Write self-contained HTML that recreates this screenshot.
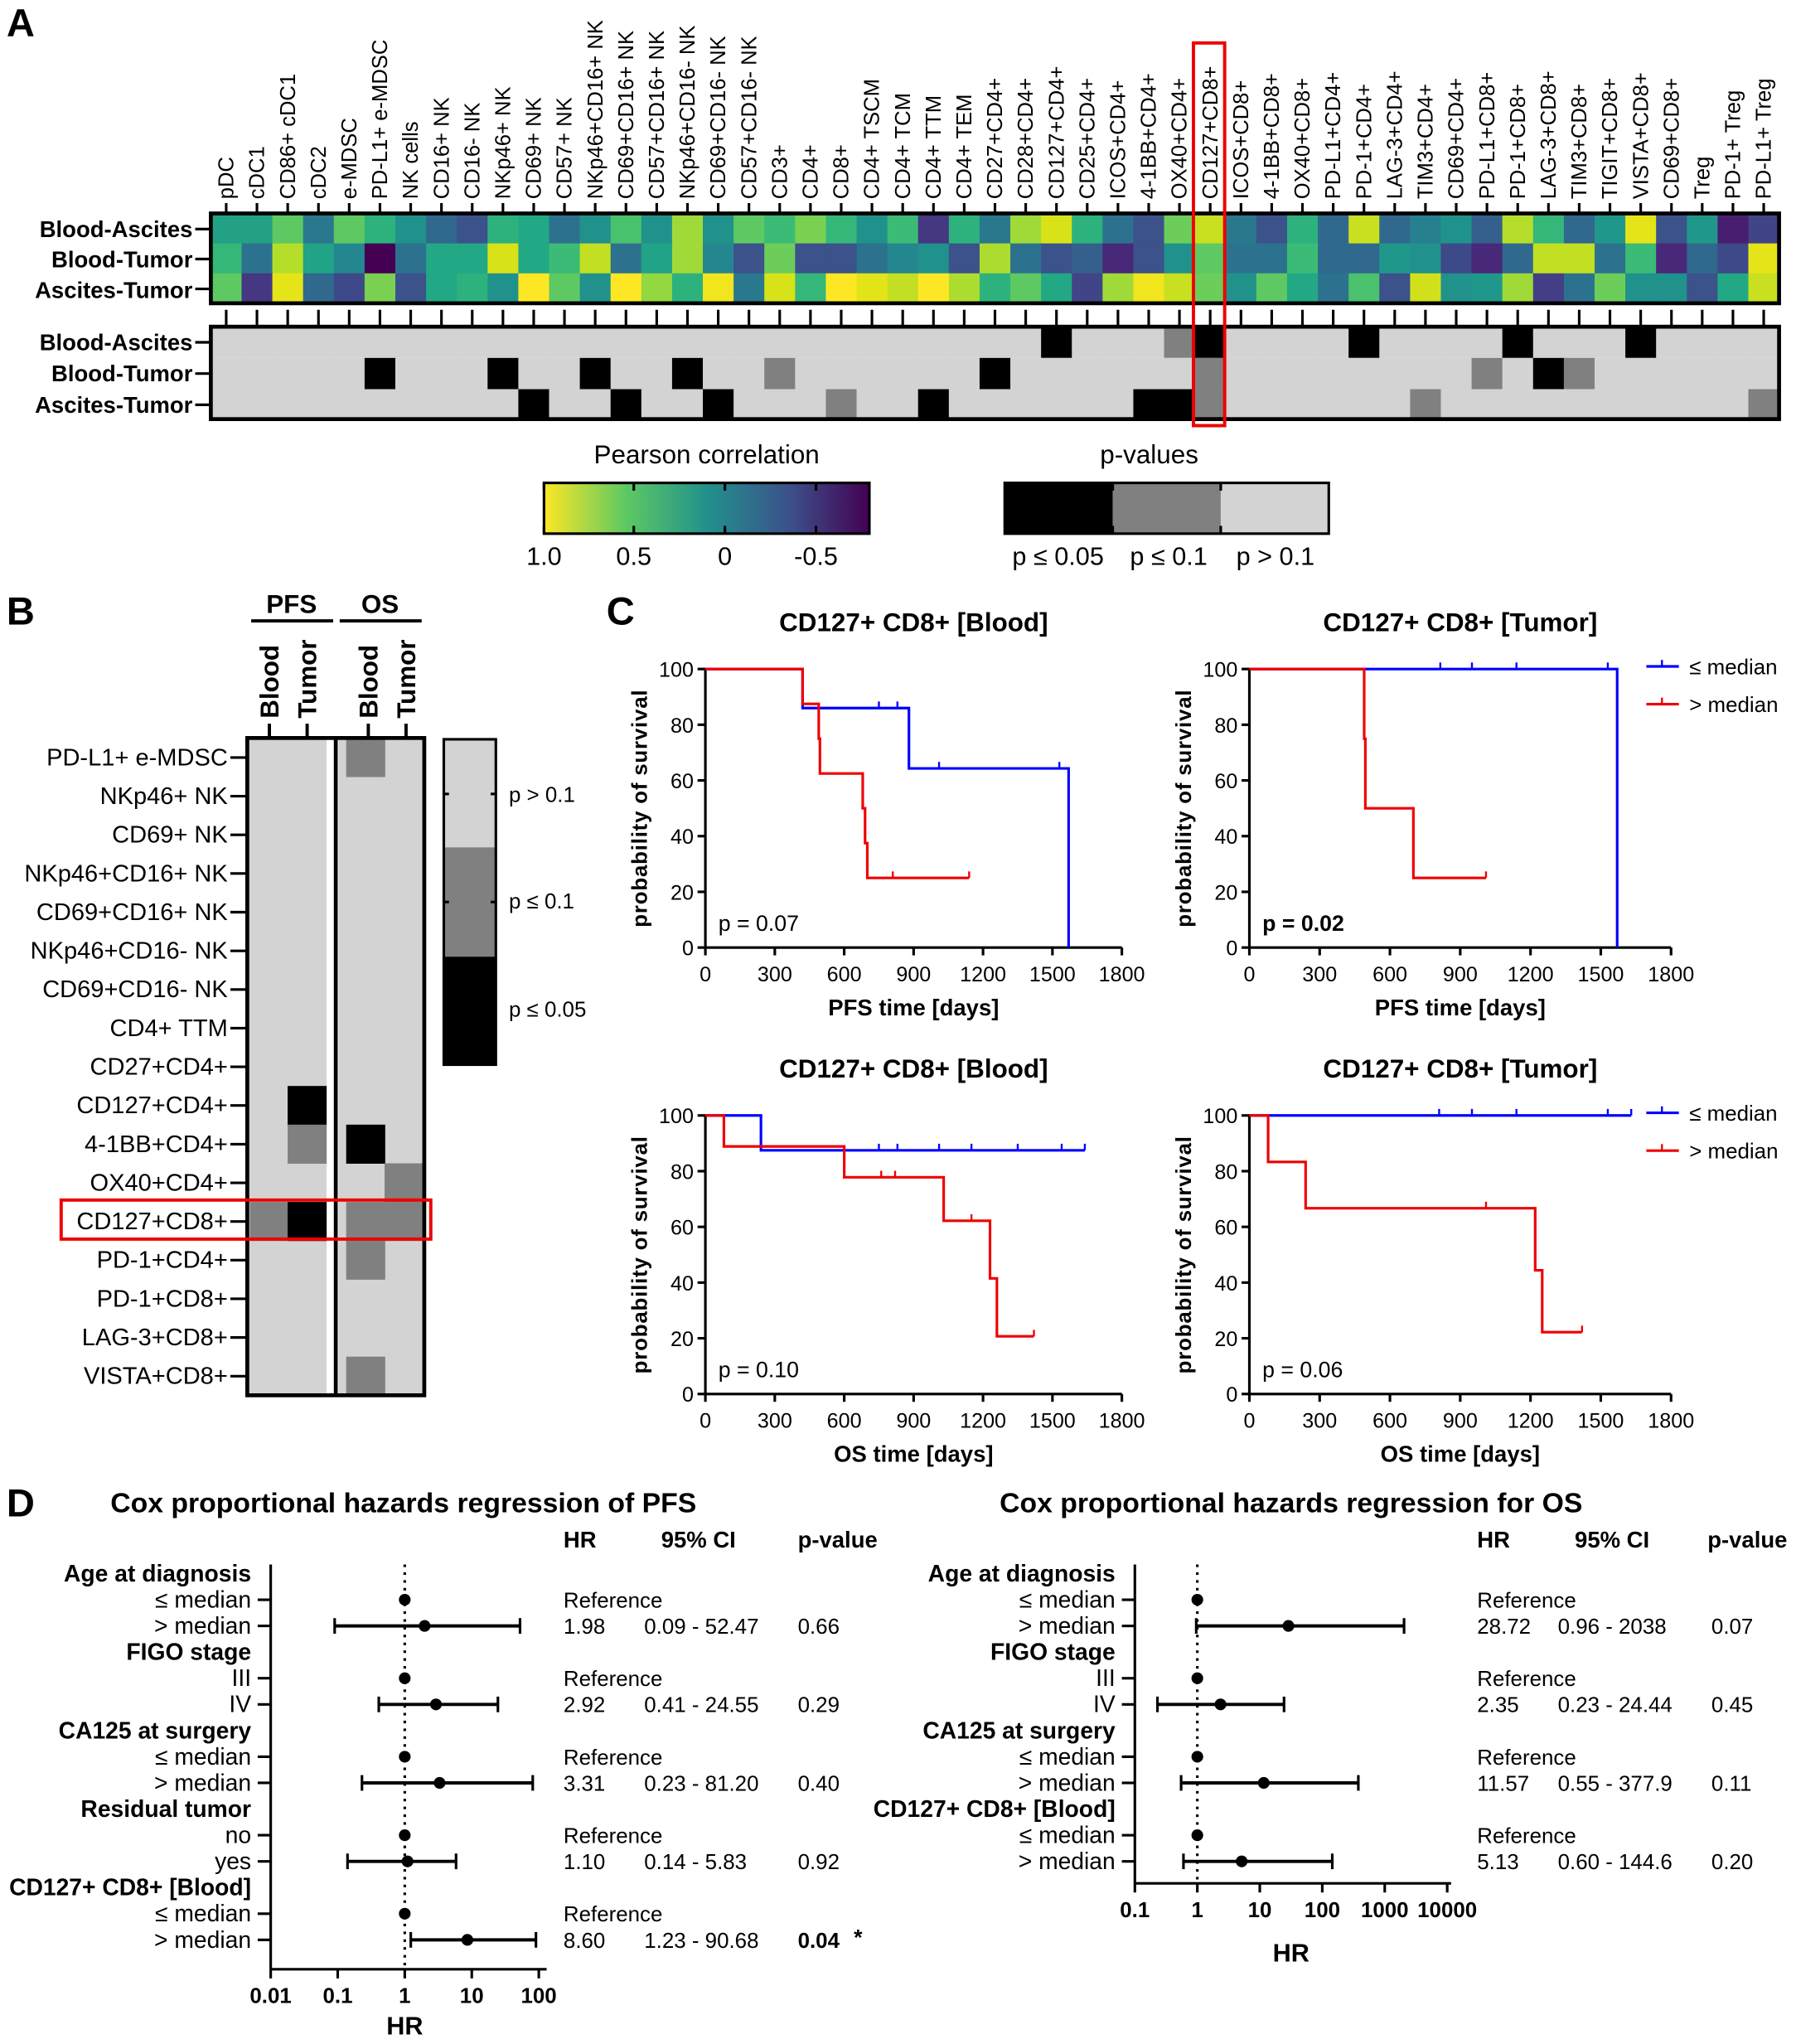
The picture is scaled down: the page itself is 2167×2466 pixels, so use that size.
<!DOCTYPE html>
<html><head><meta charset="utf-8"><style>html,body{margin:0;padding:0;background:#fff}svg{display:block}text{font-family:"Liberation Sans",sans-serif}.n{font-family:"Liberation Sans Narrow","Liberation Sans",sans-serif}</style></head>
<body>
<svg id="s" xmlns="http://www.w3.org/2000/svg" width="2167" height="2466" viewBox="0 0 1380 1570.4">
<defs><linearGradient id="vir" x1="0" x2="1" y1="0" y2="0">
<stop offset="0" stop-color="#fde725"/><stop offset="0.25" stop-color="#5ec962"/><stop offset="0.5" stop-color="#21918c"/><stop offset="0.75" stop-color="#3b528b"/><stop offset="1" stop-color="#440154"/></linearGradient></defs>
</svg>
<script>
var S=document.getElementById('s'),o='';
function T(x,y,t,sz,a,w,ex){o+='<text x="'+x+'" y="'+y+'" font-size="'+sz+'" text-anchor="'+(a||'start')+'"'+(w?' font-weight="bold"':'')+(ex||'')+'>'+t+'</text>';}
function L(x1,y1,x2,y2,c,w,ex){o+='<line x1="'+x1+'" y1="'+y1+'" x2="'+x2+'" y2="'+y2+'" stroke="'+(c||'#000')+'" stroke-width="'+(w||2)+'"'+(ex||'')+'/>';}
function R(x,y,w,h,f,ex){o+='<rect x="'+x+'" y="'+y+'" width="'+w+'" height="'+h+'" fill="'+f+'"'+(ex||'')+'/>';}
// Panel A
T(5,28,'A',30,'start',1);
var cols=["pDC","cDC1","CD86+ cDC1","cDC2","e-MDSC","PD-L1+ e-MDSC","NK cells","CD16+ NK","CD16- NK","NKp46+ NK","CD69+ NK","CD57+ NK","NKp46+CD16+ NK","CD69+CD16+ NK","CD57+CD16+ NK","NKp46+CD16- NK","CD69+CD16- NK","CD57+CD16- NK","CD3+","CD4+","CD8+","CD4+ TSCM","CD4+ TCM","CD4+ TTM","CD4+ TEM","CD27+CD4+","CD28+CD4+","CD127+CD4+","CD25+CD4+","ICOS+CD4+","4-1BB+CD4+","OX40+CD4+","CD127+CD8+","ICOS+CD8+","4-1BB+CD8+","OX40+CD8+","PD-L1+CD4+","PD-1+CD4+","LAG-3+CD4+","TIM3+CD4+","CD69+CD4+","PD-L1+CD8+","PD-1+CD8+","LAG-3+CD8+","TIM3+CD8+","TIGIT+CD8+","VISTA+CD8+","CD69+CD8+","Treg","PD-1+ Treg","PD-L1+ Treg"];
var hm=[
"#22a184 #22a184 #5ec962 #2a788e #5ec962 #2db27d #21918c #31688e #3b528b #2db27d #22a884 #2c728e #21918c #4ac16d #21918c #a0da39 #21918c #5ec962 #3bbb75 #7ad151 #35b779 #21918c #3bbb75 #453781 #2db27d #2a788e #a0da39 #d8e219 #2db27d #2c728e #3b528b #6ccd5a #c8e020 #2a788e #3b528b #2db27d #31688e #c8e020 #31688e #27808e #20928c #355f8d #b5de2b #35b779 #31688e #1f988b #e5e419 #3b528b #1f988b #481f70 #414487",
"#35b779 #2c728e #b5de2b #20a386 #24868e #440154 #2c728e #22a884 #22a884 #d8e219 #22a884 #3bbb75 #c2df23 #2c728e #20a386 #a0da39 #24868e #3b528b #6ccd5a #3b528b #3b528b #2c728e #24868e #21918c #3b528b #addc30 #2c728e #3b528b #355f8d #482878 #3b528b #21918c #5ec962 #2c728e #2c728e #3bbb75 #31688e #31688e #1f988b #21918c #3e4989 #482878 #31688e #c2df23 #c2df23 #2c728e #3bbb75 #482878 #31688e #3e4989 #e5e419",
"#5ec962 #453781 #e5e419 #31688e #3e4989 #7ad151 #3b528b #22a884 #2db27d #21918c #fde725 #5ec962 #21918c #fde725 #93d741 #2db27d #f1e51d #2a788e #d8e219 #35b779 #fde725 #e2e418 #c2df23 #fde725 #addc30 #2db27d #5ec962 #22a884 #414487 #a0da39 #f1e51d #c8e020 #6ccd5a #21918c #5ec962 #22a884 #2c728e #4ac16d #3b528b #d0e11c #21918c #1f988b #a0da39 #433e85 #2c728e #6ccd5a #21918c #21918c #3b528b #22a884 #c8e020"];
var X0=162,CW=(1367-162)/51;
for(var r=0;r<3;r++){var c=hm[r].split(' ');for(var i=0;i<51;i++)R((X0+i*CW).toFixed(2),164+r*23,(CW+0.6).toFixed(2),23.6,c[i]);}
R(X0,164,1205,69,'none',' stroke="#000" stroke-width="3"');
var pg=[{},{6:2,10:2,13:2,16:2,19:1,26:2,33:1,42:1,44:2,45:1},{11:2,14:2,17:2,21:1,24:2,31:2,32:2,33:1,40:1,51:1}];
pg[0]={28:2,32:1,33:2,38:2,43:2,47:2};
var pc=['#d3d3d3','#808080','#000'];
for(r=0;r<3;r++)for(i=0;i<51;i++)R((X0+i*CW).toFixed(2),251+r*24,(CW+0.6).toFixed(2),24,pc[pg[r][i+1]||0]);
R(X0,251,1205,71,'none',' stroke="#000" stroke-width="3"');
for(i=0;i<51;i++){var cx=(X0+(i+0.5)*CW).toFixed(2);L(cx,156,cx,164,'#000',2);L(cx,238,cx,250,'#000',2);
o+='<text transform="translate('+(+cx+5.5)+',153) rotate(-90)" font-size="16.3">'+cols[i]+'</text>';}
var rl=["Blood-Ascites","Blood-Tumor","Ascites-Tumor"];
for(r=0;r<3;r++){T(148,182+r*23.5,rl[r],17.5,'end',1);L(150,176+r*23,162,176+r*23);T(148,269+r*24,rl[r],17.5,'end',1);L(150,263+r*24,162,263+r*24);}
R(917,33,24,294,'none',' stroke="#e00" stroke-width="2.5"');
// colorbars
T(543,356,'Pearson  correlation',20,'middle');T(883,356,'p-values',20,'middle');
R(418,371,250,39,'url(#vir)',' stroke="#000" stroke-width="2"');
[[418,'1.0'],[487,'0.5'],[557,'0'],[627,'-0.5']].forEach(function(a){L(a[0],371,a[0],377);L(a[0],404,a[0],410);T(a[0],434,a[1],19.5,'middle');});
R(772,371,83,39,'#000');R(855,371,83,39,'#808080');R(938,371,83,39,'#d3d3d3');R(772,371,249,39,'none',' stroke="#000" stroke-width="2"');
L(855,371,855,377,'#000');L(938,371,938,377,'#000');L(855,404,855,410);L(938,404,938,410);
T(813,434,'p ≤ 0.05',19.5,'middle');T(898,434,'p ≤ 0.1',19.5,'middle');T(980,434,'p > 0.1',19.5,'middle');
// Panel B
T(5,480,'B',30,'start',1);
T(224,471,'PFS',20,'middle',1);T(292,471,'OS',20,'middle',1);L(193,477,256,477,'#000',2.5);L(261,477,324,477,'#000',2.5);
[[207,'Blood'],[236,'Tumor'],[283,'Blood'],[312,'Tumor']].forEach(function(a){o+='<text transform="translate('+(a[0]+7)+',552) rotate(-90)" font-size="20" font-weight="bold">'+a[1]+'</text>';L(a[0],556,a[0],567,'#000',2.5);});
var bl=["PD-L1+ e-MDSC","NKp46+ NK","CD69+ NK","NKp46+CD16+ NK","CD69+CD16+ NK","NKp46+CD16- NK","CD69+CD16- NK","CD4+ TTM","CD27+CD4+","CD127+CD4+","4-1BB+CD4+","OX40+CD4+","CD127+CD8+","PD-1+CD4+","PD-1+CD8+","LAG-3+CD8+","VISTA+CD8+"];
var RH=(1072-567)/17;
R(190,567,61,505,'#d3d3d3');R(260,567,66,505,'#d3d3d3');R(251,567,9,505,'#fff');L(258,567,258,1072,'#000',3);
var bc=[[0,2,1],[9,1,2],[10,1,1],[10,2,2],[11,3,1],[12,0,1],[12,1,2],[12,2,1],[12,3,1],[13,2,1],[16,2,1]];
var bx=[[192,29],[221,30],[266,30],[295.5,30]];
bc.forEach(function(a){R(bx[a[1]][0],567+a[0]*RH,bx[a[1]][1],RH+0.3,pc[a[2]]);});
R(190,567,136,505,'none',' stroke="#000" stroke-width="3"');
for(i=0;i<17;i++){var yy=582+i*RH;T(175,yy+6,bl[i],18.5,'end');L(177,yy,190,yy,'#000',2);}
R(47,922,284,30,'none',' stroke="#e00" stroke-width="2.5"');
R(341,568,40,83,'#d3d3d3');R(341,651,40,84,'#808080');R(341,735,40,83,'#000');R(341,568,40,250,'none',' stroke="#000" stroke-width="2"');
[610,693].forEach(function(y){L(341,y,345,y);L(377,y,381,y);});
T(391,616,'p &gt; 0.1',16.5,'start');T(391,698,'p ≤ 0.1',16.5,'start');T(391,781,'p ≤ 0.05',16.5,'start');
// Panel C
T(466,480,'C',30,'start',1);
function KM(x0,x1,yt,yb,title,xl,p,pb,curves,leg){
 var W=x1-x0,H=yb-yt;function X(d){return x0+d/1800*W;}function Y(v){return yb-v/100*H;}
 T((x0+x1)/2,yt-29,title,20,'middle',1,' class="n"');
 L(x0,yt,x0,yb,'#000',2);L(x0,yb,x1,yb,'#000',2);
 for(var v=0;v<=100;v+=20){L(x0-6,Y(v),x0,Y(v));T(x0-9,Y(v)+6,v,16,'end',0,' class="n"');}
 for(var d=0;d<=1800;d+=300){L(X(d),yb,X(d),yb+6);T(X(d),yb+26,d,16,'middle',0,' class="n"');}
 T((x0+x1)/2,yb+52,xl,17.5,'middle',1,' class="n"');
 o+='<text transform="translate('+(x0-45)+','+(yt+H/2)+') rotate(-90)" font-size="16.5" font-weight="bold" text-anchor="middle" letter-spacing="0.5">probability of survival</text>';
 T(x0+10,yb-13,p,17,'start',pb,' class="n"');
 curves.forEach(function(c){var s=c.s,pts='M'+X(0)+','+Y(100),cur=100;
  s.forEach(function(q){pts+=' H'+X(q[0]).toFixed(1)+' V'+Y(q[1]).toFixed(1);cur=q[1];});
  pts+=' H'+X(c.e).toFixed(1);
  o+='<path d="'+pts+'" fill="none" stroke="'+c.c+'" stroke-width="2"/>';
  c.t.forEach(function(t){L(X(t[0]),Y(t[1]),X(t[0]),Y(t[1])-5,c.c,1.5);});});
 if(leg){L(1265,yt-2,1290,yt-2,'#00f',2);L(1277,yt-2,1277,yt-7,'#00f',1.5);T(1298,yt+4,'≤ median',16.5,'start');
  L(1265,yt+27,1290,yt+27,'#e00',2);L(1277,yt+27,1277,yt+22,'#e00',1.5);T(1298,yt+33,'&gt; median',16.5,'start');}
}
KM(542,862,514,728,'CD127+ CD8+ [Blood]','PFS time [days]','p = 0.07',0,[
 {c:'#00f',s:[[420,86],[880,64.3],[1570,0]],e:1570,t:[[750,86],[830,86],[1010,64.3],[1530,64.3]]},
 {c:'#e00',s:[[420,87.5],[490,75],[495,62.5],[680,50],[690,37.5],[700,25]],e:1140,t:[[810,25],[1140,25]]}],0);
KM(960,1284,514,728,'CD127+ CD8+ [Tumor]','PFS time [days]','p = 0.02',1,[
 {c:'#00f',s:[[1570,0]],e:1570,t:[[815,100],[950,100],[1140,100],[1530,100]]},
 {c:'#e00',s:[[490,75],[495,50],[700,25]],e:1010,t:[[1010,25]]}],1);
KM(542,862,857,1071,'CD127+ CD8+ [Blood]','OS time [days]','p = 0.10',0,[
 {c:'#00f',s:[[240,87.5]],e:1640,t:[[750,87.5],[830,87.5],[1010,87.5],[1150,87.5],[1350,87.5],[1540,87.5],[1640,87.5]]},
 {c:'#e00',s:[[80,88.9],[600,77.8],[1030,62.2],[1230,41.5],[1260,20.7]],e:1420,t:[[760,77.8],[820,77.8],[1150,62.2],[1420,20.7]]}],0);
KM(960,1284,857,1071,'CD127+ CD8+ [Tumor]','OS time [days]','p = 0.06',0,[
 {c:'#00f',s:[],e:1630,t:[[810,100],[950,100],[1140,100],[1530,100],[1630,100]]},
 {c:'#e00',s:[[80,83.3],[240,66.7],[1220,44.4],[1250,22.2]],e:1420,t:[[1010,66.7],[1420,22.2]]}],1);
// Panel D
T(5,1165,'D',30,'start',1);
function FP(cx,title,hx,lx0,dec,axL,axR,axY,ticks,rows,lblX,colX){
 T(cx,1162,title,21.5,'middle',1);
 T(hx[0],1189,'HR',17.5,'start',1);T(hx[1],1189,'95% CI',17.5,'start',1);T(hx[2],1189,'p-value',17.5,'start',1);
 function X(v){return lx0+Math.log10(v)*dec;}
 L(axL,1202,axL,axY,'#000',2);L(axL,axY,axR,axY,'#000',2);
 ticks.forEach(function(t){L(X(t[0]),axY,X(t[0]),axY+7);T(X(t[0]),axY+26,t[1],16.5,'middle',1);});
 L(X(1),1202,X(1),axY,'#000',2,' stroke-dasharray="2,4"');
 rows.forEach(function(r,i){var y=1209+i*20.1;
  if(r.h){T(193+lblX,y+6,r.h,18,'end',1);return;}
  T(193+lblX,y+6,r.l,18,'end');L(axL-10,y,axL,y);
  if(r.ref){o+='<circle cx="'+X(1)+'" cy="'+y+'" r="4.5"/>';T(colX,y+6,'Reference',16.5);}
  else{L(X(r.lo),y,X(r.hi),y,'#000',2.5);L(X(r.lo),y-6,X(r.lo),y+6,'#000',2);L(X(r.hi),y-6,X(r.hi),y+6,'#000',2);
   o+='<circle cx="'+X(r.v)+'" cy="'+y+'" r="4.5"/>';
   T(colX,y+6,r.s[0],16.5);T(colX+62,y+6,r.s[1],16.5);T(colX+180,y+6,r.s[2],16.5,'start',r.b);if(r.b)T(colX+223,y+4,'*',17,'start',1);}
 });
}
FP(310,'Cox proportional hazards regression of PFS',[433,508,613],311,51.5,208,420,1513,[[0.01,'0.01'],[0.1,'0.1'],[1,'1'],[10,'10'],[100,'100']],[
 {h:'Age at diagnosis'},{l:'≤ median',ref:1},{l:'&gt; median',v:1.98,lo:0.09,hi:52.47,s:['1.98','0.09 - 52.47','0.66']},
 {h:'FIGO stage'},{l:'III',ref:1},{l:'IV',v:2.92,lo:0.41,hi:24.55,s:['2.92','0.41 - 24.55','0.29']},
 {h:'CA125 at surgery'},{l:'≤ median',ref:1},{l:'&gt; median',v:3.31,lo:0.23,hi:81.2,s:['3.31','0.23 - 81.20','0.40']},
 {h:'Residual tumor'},{l:'no',ref:1},{l:'yes',v:1.10,lo:0.14,hi:5.83,s:['1.10','0.14 - 5.83','0.92']},
 {h:'CD127+ CD8+ [Blood]'},{l:'≤ median',ref:1},{l:'&gt; median',v:8.6,lo:1.23,hi:90.68,s:['8.60','1.23 - 90.68','0.04'],b:1}],0,433);
T(311,1563,'HR',19.5,'middle',1);
FP(992,'Cox proportional hazards regression for OS',[1135,1210,1312],920,48,872,1115,1447,[[0.1,'0.1'],[1,'1'],[10,'10'],[100,'100'],[1000,'1000'],[10000,'10000']],[
 {h:'Age at diagnosis'},{l:'≤ median',ref:1},{l:'&gt; median',v:28.72,lo:0.96,hi:2038,s:['28.72','0.96 - 2038','0.07']},
 {h:'FIGO stage'},{l:'III',ref:1},{l:'IV',v:2.35,lo:0.23,hi:24.44,s:['2.35','0.23 - 24.44','0.45']},
 {h:'CA125 at surgery'},{l:'≤ median',ref:1},{l:'&gt; median',v:11.57,lo:0.55,hi:377.9,s:['11.57','0.55 - 377.9','0.11']},
 {h:'CD127+ CD8+ [Blood]'},{l:'≤ median',ref:1},{l:'&gt; median',v:5.13,lo:0.6,hi:144.6,s:['5.13','0.60 - 144.6','0.20']}],664,1135);
T(992,1507,'HR',19.5,'middle',1);
S.insertAdjacentHTML('beforeend',o);
</script>
</body></html>
